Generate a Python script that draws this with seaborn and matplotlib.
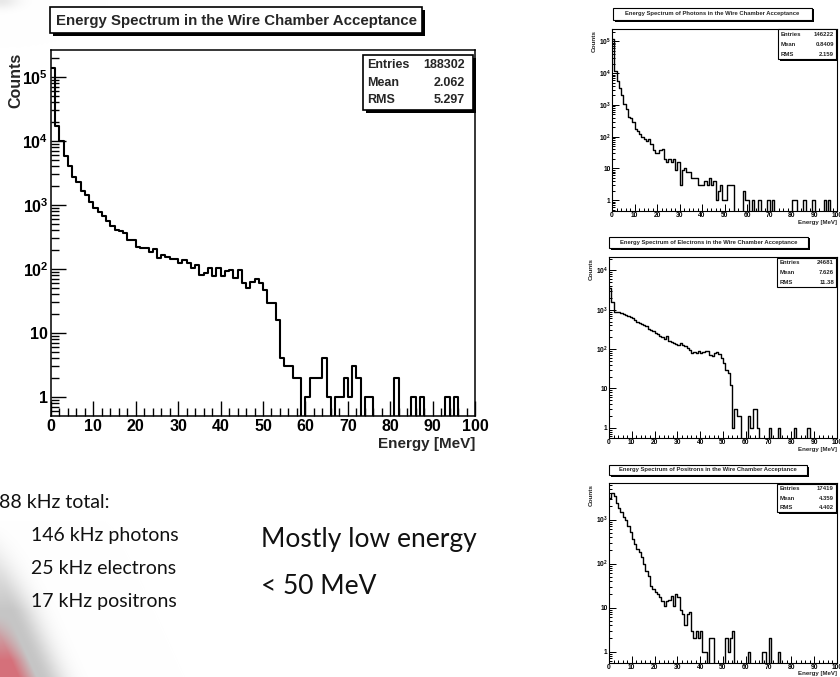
import numpy as np
import pandas as pd
import seaborn as sns
import matplotlib
matplotlib.use("Agg")
import matplotlib.pyplot as plt
from matplotlib import font_manager
from matplotlib.patches import Rectangle
from matplotlib.ticker import FixedLocator, FixedFormatter, MultipleLocator, LogLocator, NullFormatter

W, H = 840, 677

# 1 MeV bins, 0-100 MeV
bin_centers = np.arange(100) + 0.5

all_counts = [
    140000, 17000, 10000, 5700, 4000, 2750, 2250, 1650, 1450, 1120,
    900, 780, 670, 560, 475, 410, 385, 360, 285, 285,
    223, 215, 215, 180, 205, 147, 166, 155, 141, 141,
    125, 138, 123, 102, 115, 81, 86, 102, 76, 102,
    76, 91, 96, 73, 96, 60, 50, 63, 70, 60,
    47, 29, 29, 16, 4, 3, 3, 2, 2, 0,
    1, 2, 2, 2, 4, 1, 0, 1, 1, 2,
    1, 3, 2, 0, 1, 1, 0, 0, 0, 0,
    0, 2, 0, 0, 0, 1, 0, 1, 0, 0,
    0, 0, 0, 1, 0, 1, 0, 0, 0, 0,
]
photon_counts = [
    120000, 12000, 5700, 3500, 2000, 1100, 750, 420, 380, 280,
    180, 155, 120, 100, 85, 75, 85, 60, 37, 30,
    30, 37, 40, 20, 16, 20, 16, 20, 9, 16,
    3, 9, 10, 8, 8, 5, 5, 5, 3, 3,
    3, 4, 3, 5, 3, 4, 1, 2, 3, 1,
    1, 3, 3, 3, 0, 0, 0, 0, 2, 1,
    1, 0, 1, 0, 0, 1, 0, 0, 0, 1,
    0, 1, 0, 0, 0, 0, 0, 0, 0, 0,
    1, 1, 0, 0, 0, 1, 0, 0, 0, 1,
    0, 0, 0, 0, 1, 0, 1, 0, 0, 0,
]
electron_counts = [
    3500, 1600, 900, 880, 860, 830, 780, 740, 700, 640,
    600, 540, 500, 470, 440, 420, 380, 330, 300, 280,
    260, 240, 220, 200, 180, 210, 160, 150, 140, 135,
    130, 145, 125, 120, 105, 95, 80, 85, 80, 90,
    80, 85, 90, 90, 70, 65, 80, 85, 75, 60,
    45, 30, 25, 12, 1, 3, 2, 2, 0, 0,
    0, 2, 1, 3, 3, 1, 0, 0, 0, 0,
    1, 0, 0, 0, 1, 0, 0, 0, 0, 0,
    0, 1, 0, 0, 0, 0, 0, 1, 0, 0,
    0, 0, 0, 0, 0, 0, 0, 0, 0, 0,
]
positron_counts = [
    3040, 4000, 3390, 2360, 1810, 1520, 1150, 980, 720, 525,
    370, 285, 215, 182, 139, 97, 69, 53, 31, 26,
    22, 20, 17, 14, 11, 14, 15, 18, 11, 20,
    17, 9, 7, 4, 7, 8, 3, 2, 3, 2,
    3, 1, 1, 0, 2, 2, 0, 0, 0, 0,
    0, 2, 1, 2, 3, 0, 0, 0, 0, 0,
    0, 1, 0, 0, 0, 0, 0, 1, 1, 0,
    2, 0, 0, 0, 1, 0, 0, 0, 0, 0,
    0, 0, 0, 0, 0, 0, 0, 0, 0, 0,
    0, 0, 0, 0, 0, 0, 0, 0, 0, 0,
]

main_title = "Energy Spectrum in the Wire Chamber Acceptance"
small_titles = [
    "Energy Spectrum of Photons in the Wire Chamber Acceptance",
    "Energy Spectrum of Electrons in the Wire Chamber Acceptance",
    "Energy Spectrum of Positrons in the Wire Chamber Acceptance",
]
main_stats = [("Entries", "188302"), ("Mean", "2.062"), ("RMS", "5.297")]
small_stats = [
    [("Entries", "146222"), ("Mean", "0.8409"), ("RMS", "2.159")],
    [("Entries", "24681"), ("Mean", "7.626"), ("RMS", "11.38")],
    [("Entries", "17419"), ("Mean", "4.359"), ("RMS", "4.402")],
]
rate_lines = ["88 kHz total:", "146 kHz photons", "25 kHz electrons", "17 kHz positrons"]
note_lines = ["Mostly low energy", "< 50 MeV"]

sns.set_theme(style="white")
names = {f.name for f in font_manager.fontManager.ttflist}
root_font = "Liberation Sans Narrow" if "Liberation Sans Narrow" in names else "Liberation Sans"
slide_font = "Lato" if "Lato" in names else "DejaVu Sans"
plt.rcParams["font.family"] = [root_font, "DejaVu Sans"]
plt.rcParams["mathtext.fontset"] = "custom"
plt.rcParams["mathtext.rm"] = root_font
plt.rcParams["mathtext.bf"] = root_font + ":bold"

fig = plt.figure(figsize=(W / 100, H / 100), dpi=100)
fig.patch.set_facecolor("white")


def px_axes(left, top, right, bottom, **kw):
    return fig.add_axes([left / W, 1 - bottom / H, (right - left) / W, (bottom - top) / H], **kw)


def pave(left, top, right, bottom, shadow=3, lw=1.2):
    fig.add_artist(Rectangle(((left + shadow) / W, 1 - (bottom + shadow) / H),
                             (right - left) / W, (bottom - top) / H,
                             transform=fig.transFigure, facecolor="black", edgecolor="none", zorder=5))
    fig.add_artist(Rectangle((left / W, 1 - bottom / H), (right - left) / W, (bottom - top) / H,
                             transform=fig.transFigure, facecolor="white", edgecolor="black",
                             linewidth=lw, zorder=6))


def ftext(x, y, s, **kw):
    kw.setdefault("zorder", 7)
    return fig.text(x / W, 1 - y / H, s, **kw)


# slide background decoration (grey/red swoosh bottom-left)
yy, xx = np.mgrid[0:H, 0:W].astype(float)
peak = 5 + 0.45 * (yy - 600)
d = xx - peak
g = np.where(d > 0, np.exp(-(d / 24) ** 2), 1.0) * 0.5 * np.clip((yy - 520) / 90, 0, 1)
g += 0.2 * np.exp(-(xx / 18) ** 2 - (yy / 8) ** 2)
red_w = np.clip((-d - 3) / 18, 0, 1) * np.clip((yy - 615) / 45, 0, 1) * 0.75
img = np.ones((H, W, 3))
img = img * (1 - g[..., None]) + 0.55 * g[..., None]
img = img * (1 - red_w[..., None]) + np.array([0.86, 0.33, 0.38]) * red_w[..., None]
bg = fig.add_axes([0, 0, 1, 1], zorder=-10)
bg.imshow(img, aspect="auto", interpolation="bilinear")
bg.axis("off")


def spectrum(ax, counts, ylim, lw, frame_lw, tick_size, major_len, scale):
    df = pd.DataFrame({"energy": bin_centers, "counts": counts})
    sns.histplot(data=df, x="energy", weights="counts", binwidth=1, binrange=(0, 100),
                 element="step", fill=False, color="black", linewidth=lw, ax=ax)
    ax.set_yscale("log")
    ax.set_xlim(0, 100)
    ax.set_ylim(*ylim)
    ax.set_xlabel("")
    ax.set_ylabel("")
    ax.set_facecolor("white")
    for sp in ax.spines.values():
        sp.set_color("black")
        sp.set_linewidth(frame_lw)
    ax.xaxis.set_major_locator(MultipleLocator(10))
    ax.xaxis.set_minor_locator(MultipleLocator(2))
    dec = [1, 10, 100, 1e3, 1e4, 1e5]
    labs = ["1", "10", r"$\mathbf{10^{2}}$", r"$\mathbf{10^{3}}$", r"$\mathbf{10^{4}}$", r"$\mathbf{10^{5}}$"]
    ax.yaxis.set_major_locator(FixedLocator(dec))
    ax.yaxis.set_major_formatter(FixedFormatter(labs))
    ax.yaxis.set_minor_locator(LogLocator(base=10, subs=np.arange(2, 10)))
    ax.yaxis.set_minor_formatter(NullFormatter())
    ax.tick_params(which="both", direction="in", top=False, right=False, left=True, bottom=True,
                   colors="black", width=frame_lw * 0.9)
    ax.tick_params(which="major", length=major_len, labelsize=tick_size, pad=2 * scale)
    ax.tick_params(which="minor", length=major_len * 0.5)
    for t in ax.get_xticklabels() + ax.get_yticklabels():
        t.set_fontweight("bold")


# main histogram
ax = px_axes(51, 50, 475, 416)
spectrum(ax, all_counts, (10 ** -0.3, 10 ** 5.42), 1.5, 1.1, 11.5, 11, 1.0)
pave(50, 7, 422, 33)
ftext(236, 20.5, main_title, ha="center", va="center", fontsize=10.8, fontweight="bold")
pave(363, 55, 473, 110)
for i, (k, v) in enumerate(main_stats):
    ftext(367, 65 + 17.5 * i, k, ha="left", va="center", fontsize=9, fontweight="bold")
    ftext(465, 65 + 17.5 * i, v, ha="right", va="center", fontsize=9, fontweight="bold")
ftext(16, 53, "Counts", rotation=90, ha="center", va="top", fontsize=11.5, fontweight="bold")
ftext(475, 444, "Energy [MeV]", ha="right", va="center", fontsize=11, fontweight="bold")

# three small spectra on the right
small = [
    (photon_counts, (612, 29, 837, 211), (10 ** -0.34, 10 ** 5.39), (613, 8, 812, 20), (778, 29, 836, 59)),
    (electron_counts, (609, 257, 837, 438), (10 ** -0.26, 10 ** 4.34), (609, 237, 808, 248), (777, 258, 836, 287)),
    (positron_counts, (609, 483, 837, 663), (10 ** -0.26, 10 ** 3.83), (609, 465, 807, 475), (777, 484, 836, 512)),
]
for i, (counts, axb, ylim, tb, sb) in enumerate(small):
    sax = px_axes(*axb)
    spectrum(sax, counts, ylim, 1.0, 0.8, 4.8, 5, 0.5)
    pave(*tb, shadow=1.5, lw=0.8)
    ftext((tb[0] + tb[2]) / 2, (tb[1] + tb[3]) / 2, small_titles[i], ha="center", va="center",
          fontsize=4.2, fontweight="bold")
    pave(*sb, shadow=1.5, lw=0.8)
    rh = (sb[3] - sb[1]) / 3
    for j, (k, v) in enumerate(small_stats[i]):
        yc = sb[1] + rh * (j + 0.5)
        ftext(sb[0] + 3, yc, k, ha="left", va="center", fontsize=4.3, fontweight="bold")
        ftext(sb[2] - 2, yc, v, ha="right", va="center", fontsize=4.3, fontweight="bold")
    ftext(axb[0] - 18, axb[1] + 1, "Counts", rotation=90, ha="center", va="top", fontsize=4.6,
          fontweight="bold")
    ftext(axb[2], axb[3] + 11, "Energy [MeV]", ha="right", va="center", fontsize=4.4, fontweight="bold")

# slide text
for i, s in enumerate(rate_lines):
    x = -1 if i == 0 else 31
    ftext(x, 502 + 33 * i, s, ha="left", va="center", fontsize=14, family=slide_font, color="#111111")
for i, s in enumerate(note_lines):
    ftext(261, 540 + 47 * i, s, ha="left", va="center", fontsize=19, family=slide_font, color="#111111")

fig.savefig("out.png", dpi=100)
